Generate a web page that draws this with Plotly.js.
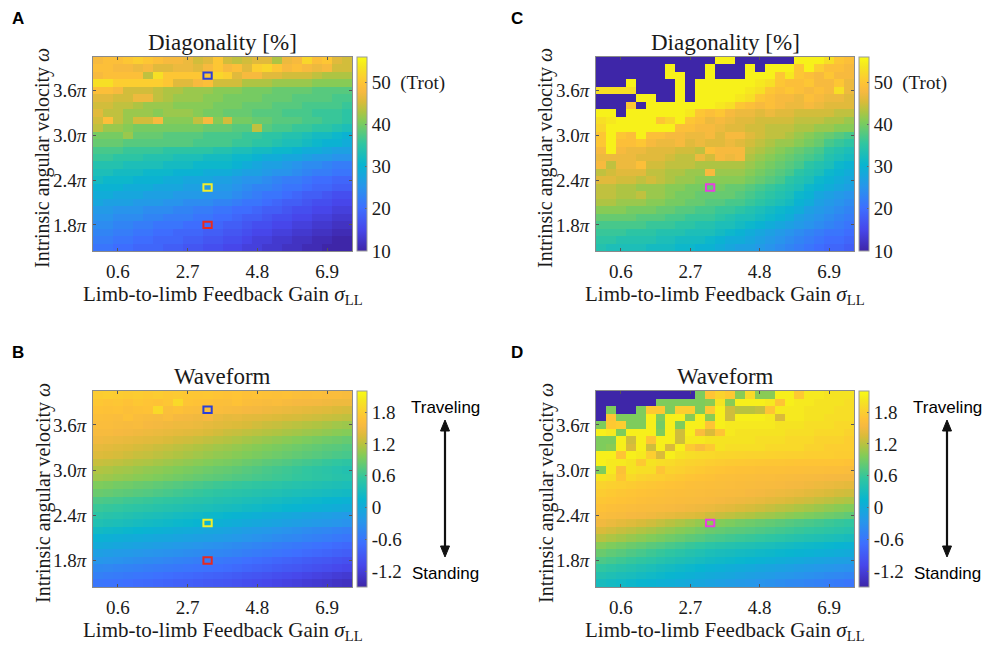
<!DOCTYPE html>
<html>
<head>
<meta charset="utf-8">
<script src="https://cdn.plot.ly/plotly-3.0.1.min.js"></script>
<style>html,body{margin:0;padding:0;background:#fff;}#chart{width:984px;height:645px;}</style>
</head>
<body>
<div id="chart"></div>
<script>
// ---- axes / categories ----
const xVals = [0,0.3,0.6,0.9,1.2,1.5,1.8,2.1,2.4,2.7,3.0,3.3,3.6,3.9,4.2,4.5,4.8,5.1,5.4,5.7,6.0,6.3,6.6,6.9,7.2,7.5];
// rows listed from top (4.0π) to bottom (1.5π)
const yVals = [4.0,3.9,3.8,3.7,3.6,3.5,3.4,3.3,3.2,3.1,3.0,2.9,2.8,2.7,2.6,2.5,2.4,2.3,2.2,2.1,2.0,1.9,1.8,1.7,1.6,1.5];
const xTickVals = [0.6,2.7,4.8,6.9];
const xTickText = ['0.6','2.7','4.8','6.9'];
const yTickVals = [1.8,2.4,3.0,3.6];
const yTickText = ['1.8<i>π</i>','2.4<i>π</i>','3.0<i>π</i>','3.6<i>π</i>'];
const diagTickVals = [10,20,30,40,50];
const diagTickText = ['10','20','30','40','50  (Trot)'];
const waveTickVals = [-1.2,-0.6,0,0.6,1.2,1.8];
const waveTickText = ['-1.2','-0.6','0','0.6','1.2','1.8'];

// ---- A: Diagonality [%] ----
const zDiagA = [
[48,49,49,50,51,50,49,48,48,47,45,46,50,45,44,45,46,46,43,47,48,52,49,50,46,45],
[49,49,48,48,47,48,46,46,47,47,46,48,50,48,49,46,51,52,50,48,49,48,47,48,45,45],
[48,49,49,49,49,44,53,50,50,50,50,50,52,51,46,48,48,46,46,45,45,45,44,43,43,43],
[53,53,51,51,51,51,51,50,46,46,48,49,45,45,45,43,43,43,42,42,42,42,41,41,41,41],
[49,49,48,45,45,45,44,43,43,42,42,42,41,41,41,40,40,40,39,39,39,39,38,38,38,38],
[46,46,45,45,47,47,44,43,42,42,42,41,41,40,40,40,40,39,39,39,38,38,38,38,37,37],
[45,45,44,44,43,42,42,42,41,41,41,41,40,40,40,39,39,39,38,38,38,37,37,37,37,36],
[46,44,44,42,42,42,41,42,42,42,41,40,40,39,39,39,38,38,38,37,37,37,36,36,36,35],
[45,49,44,42,45,45,48,41,41,41,44,48,41,45,40,40,39,39,38,38,38,37,37,36,36,35],
[44,42,42,41,40,40,40,40,40,40,40,39,39,39,38,38,44,38,37,37,36,36,35,35,34,33],
[40,40,40,42,39,39,39,38,38,38,38,37,37,37,37,36,36,35,35,34,34,33,32,32,31,30],
[39,39,39,38,38,38,38,38,38,38,37,37,37,37,36,36,35,35,34,33,33,32,31,30,30,29],
[37,37,37,36,36,36,36,35,35,35,35,35,34,34,33,33,32,32,31,31,30,29,29,28,27,27],
[36,36,35,35,35,34,34,34,33,33,33,32,32,32,31,31,30,29,29,28,28,27,26,26,25,25],
[34,34,34,33,33,33,33,32,32,32,31,31,31,31,30,29,28,27,27,26,25,24,24,23,22,22],
[33,33,32,32,32,31,31,31,30,30,30,29,29,29,28,27,27,26,25,25,24,23,22,22,21,21],
[32,31,31,31,30,30,30,29,29,28,28,28,27,27,26,25,25,24,23,22,22,21,20,20,19,19],
[30,30,30,29,29,29,28,28,28,27,27,26,26,26,25,24,23,23,22,21,21,20,19,19,18,18],
[29,29,28,28,28,27,27,27,26,26,26,25,25,25,24,23,22,21,21,20,19,18,18,17,16,16],
[28,27,27,27,26,26,26,25,25,24,24,24,23,23,22,21,21,20,19,18,18,17,16,16,15,15],
[26,26,25,25,25,24,24,24,23,23,22,22,21,21,20,20,19,18,18,17,16,16,15,15,14,14],
[25,25,24,24,24,23,23,22,22,22,21,21,20,20,19,18,18,17,16,16,15,15,14,14,13,13],
[24,24,23,23,22,22,21,21,21,20,20,20,19,18,18,17,16,16,15,15,14,14,13,13,12,12],
[23,23,22,22,21,21,20,20,19,19,19,18,18,17,17,16,15,15,14,14,13,13,12,12,11,11],
[22,22,21,21,20,20,19,19,19,18,18,17,17,16,16,15,14,14,13,13,12,12,11,11,10,10],
[21,21,20,20,19,19,19,18,18,17,17,16,16,15,15,14,14,13,13,12,12,11,11,10,10,10]
];

// ---- C: Diagonality [%] (second condition) ----
const zDiagC = [
[10,10,10,10,10,10,10,10,10,10,10,10,55,55,10,10,10,10,10,10,55,55,55,53,50,49],
[10,10,10,10,10,10,10,55,10,10,10,55,10,10,10,55,10,55,55,55,50,55,51,49,49,48],
[10,10,10,10,10,10,10,55,55,10,10,55,10,10,10,55,55,55,50,54,50,49,48,50,48,48],
[10,10,10,55,10,10,10,10,55,10,55,55,55,55,55,55,54,53,50,49,49,50,48,48,50,47],
[53,53,53,53,10,10,10,10,55,10,55,55,55,55,55,54,53,50,49,50,49,48,49,48,53,47],
[10,10,10,10,55,55,10,10,55,10,55,55,55,55,54,53,50,49,48,48,47,49,48,47,47,46],
[10,10,10,50,10,55,55,55,55,55,55,55,54,53,50,49,48,49,48,47,47,48,47,46,46,46],
[55,55,10,55,55,55,55,55,55,54,50,49,50,48,47,47,46,47,46,46,45,45,45,45,44,44],
[53,54,55,55,55,55,50,52,55,50,49,47,48,47,46,46,45,45,45,45,44,44,44,43,43,42],
[52,55,55,55,55,55,55,55,49,49,48,48,47,46,46,45,45,44,44,44,43,43,42,42,41,41],
[50,55,50,49,55,49,49,48,48,47,47,48,46,48,48,46,45,44,44,43,42,41,40,39,38,37],
[50,55,49,49,50,48,47,47,48,46,47,46,46,47,46,45,44,43,42,42,41,40,39,37,36,35],
[48,55,48,47,47,46,46,46,45,45,44,49,48,48,48,44,43,42,41,40,39,38,37,35,34,33],
[47,47,47,47,46,46,46,45,44,44,47,45,48,47,48,43,42,41,40,39,38,37,36,34,33,32],
[48,44,47,47,49,45,45,44,44,44,43,43,43,43,43,42,41,40,39,38,37,35,34,33,31,30],
[44,45,46,46,46,44,44,43,43,42,42,48,42,42,42,41,40,39,38,37,35,34,33,31,30,29],
[46,46,45,45,44,45,44,43,42,42,41,41,41,41,41,40,39,38,37,35,34,33,31,30,29,28],
[44,44,43,43,42,42,42,41,41,40,40,39,40,39,39,38,37,36,35,34,33,31,30,29,28,27],
[44,44,43,43,44,42,42,41,40,40,39,39,39,39,38,37,36,35,34,33,31,30,28,27,26,25],
[43,43,42,42,42,41,41,40,40,39,39,38,38,37,37,36,35,34,33,32,30,29,27,26,25,24],
[41,41,41,40,40,40,39,39,38,38,37,37,36,36,35,34,33,32,31,30,29,27,26,25,24,23],
[39,39,39,39,38,38,38,37,37,36,36,36,35,34,33,33,32,31,30,29,27,26,25,24,23,22],
[37,37,37,37,37,36,36,36,35,35,34,34,33,33,32,31,30,29,28,27,26,25,24,23,22,21],
[36,36,36,35,35,35,34,34,34,33,33,33,32,31,30,29,28,27,26,25,24,23,22,21,21,20],
[35,35,34,34,34,34,33,33,32,32,32,31,30,29,29,28,27,26,25,24,23,22,21,20,20,19],
[34,33,33,33,33,32,32,32,31,31,30,30,29,28,27,27,26,25,24,23,22,21,20,19,19,18]
];

// ---- B: Waveform ----
const zWaveB = [
[1.78,1.8,1.78,1.76,1.78,1.75,1.78,1.74,1.76,1.73,1.72,1.73,1.7,1.68,1.7,1.67,1.68,1.66,1.65,1.66,1.63,1.62,1.63,1.6,1.6,1.58],
[1.73,1.7,1.72,1.68,1.73,1.7,1.68,1.72,1.9,1.7,1.68,1.66,1.64,1.63,1.68,1.62,1.6,1.58,1.6,1.56,1.54,1.53,1.52,1.5,1.48,1.48],
[1.68,1.66,1.68,1.64,1.66,1.68,1.9,1.63,1.66,1.62,1.6,1.62,1.6,1.58,1.56,1.54,1.52,1.5,1.48,1.46,1.44,1.42,1.4,1.38,1.35,1.33],
[1.63,1.62,1.6,1.66,1.6,1.58,1.56,1.6,1.54,1.52,1.5,1.54,1.46,1.43,1.44,1.41,1.4,1.38,1.36,1.34,1.33,1.31,1.29,1.27,1.25,1.23],
[1.6,1.6,1.58,1.56,1.58,1.54,1.52,1.5,1.48,1.48,1.46,1.43,1.4,1.38,1.36,1.34,1.31,1.28,1.26,1.23,1.21,1.18,1.16,1.13,1.1,1.08],
[1.56,1.56,1.54,1.52,1.5,1.48,1.46,1.44,1.42,1.4,1.38,1.35,1.32,1.28,1.26,1.23,1.21,1.18,1.16,1.13,1.11,1.08,1.06,1.03,1.0,0.98],
[1.5,1.48,1.46,1.44,1.42,1.4,1.38,1.35,1.32,1.3,1.27,1.24,1.21,1.18,1.15,1.12,1.09,1.06,1.03,1.0,0.97,0.94,0.91,0.88,0.86,0.83],
[1.43,1.41,1.38,1.36,1.33,1.31,1.28,1.25,1.22,1.19,1.16,1.13,1.1,1.08,1.05,1.02,0.99,0.96,0.93,0.9,0.87,0.84,0.81,0.78,0.76,0.73],
[1.37,1.35,1.33,1.3,1.27,1.25,1.22,1.19,1.16,1.13,1.1,1.07,1.04,1.02,0.99,0.96,0.93,0.9,0.87,0.84,0.81,0.78,0.75,0.72,0.69,0.67],
[1.27,1.25,1.23,1.2,1.17,1.15,1.12,1.09,1.06,1.03,1.0,0.97,0.94,0.92,0.89,0.85,0.82,0.78,0.75,0.72,0.68,0.65,0.62,0.58,0.55,0.52],
[1.17,1.15,1.12,1.1,1.07,1.04,1.02,0.99,0.96,0.93,0.9,0.87,0.84,0.82,0.79,0.75,0.72,0.68,0.65,0.62,0.59,0.55,0.52,0.49,0.45,0.42],
[1.1,1.08,1.05,1.03,1.0,0.98,0.95,0.92,0.89,0.86,0.83,0.8,0.78,0.75,0.72,0.7,0.67,0.65,0.62,0.6,0.57,0.55,0.52,0.5,0.47,0.45],
[0.95,0.93,0.9,0.88,0.85,0.83,0.8,0.77,0.74,0.71,0.68,0.65,0.62,0.6,0.58,0.56,0.54,0.52,0.5,0.47,0.45,0.43,0.41,0.39,0.37,0.35],
[0.85,0.83,0.8,0.78,0.75,0.73,0.7,0.67,0.64,0.61,0.58,0.55,0.52,0.5,0.48,0.46,0.44,0.42,0.4,0.37,0.35,0.33,0.31,0.29,0.27,0.25],
[0.7,0.68,0.66,0.63,0.61,0.59,0.56,0.54,0.52,0.49,0.47,0.45,0.42,0.4,0.38,0.35,0.33,0.3,0.28,0.25,0.23,0.2,0.18,0.15,0.13,0.1],
[0.6,0.58,0.56,0.53,0.51,0.49,0.46,0.44,0.42,0.39,0.37,0.35,0.32,0.3,0.28,0.25,0.23,0.2,0.18,0.15,0.13,0.1,0.08,0.05,0.03,0.0],
[0.5,0.47,0.45,0.42,0.39,0.36,0.34,0.31,0.28,0.26,0.23,0.2,0.18,0.15,0.12,0.09,0.06,0.03,0.0,-0.03,-0.06,-0.09,-0.12,-0.14,-0.17,-0.2],
[0.4,0.37,0.35,0.32,0.29,0.26,0.24,0.21,0.18,0.16,0.13,0.1,0.08,0.05,0.02,-0.01,-0.04,-0.07,-0.1,-0.13,-0.16,-0.19,-0.22,-0.24,-0.27,-0.3],
[0.25,0.22,0.2,0.17,0.14,0.11,0.09,0.06,0.03,0.01,-0.02,-0.05,-0.07,-0.1,-0.13,-0.17,-0.2,-0.23,-0.27,-0.3,-0.33,-0.37,-0.4,-0.43,-0.47,-0.5],
[0.1,0.08,0.05,0.03,0.01,-0.02,-0.04,-0.06,-0.08,-0.11,-0.13,-0.15,-0.18,-0.2,-0.23,-0.27,-0.3,-0.33,-0.37,-0.4,-0.43,-0.47,-0.5,-0.53,-0.57,-0.6],
[0.0,-0.03,-0.05,-0.08,-0.11,-0.13,-0.16,-0.19,-0.22,-0.24,-0.27,-0.3,-0.32,-0.35,-0.38,-0.42,-0.45,-0.48,-0.52,-0.55,-0.58,-0.62,-0.65,-0.68,-0.72,-0.75],
[-0.15,-0.17,-0.2,-0.22,-0.24,-0.27,-0.29,-0.31,-0.33,-0.36,-0.38,-0.4,-0.43,-0.45,-0.48,-0.52,-0.55,-0.58,-0.62,-0.65,-0.68,-0.72,-0.75,-0.78,-0.82,-0.85],
[-0.25,-0.28,-0.3,-0.33,-0.36,-0.38,-0.41,-0.44,-0.47,-0.49,-0.52,-0.55,-0.57,-0.6,-0.63,-0.67,-0.7,-0.73,-0.77,-0.8,-0.83,-0.87,-0.9,-0.93,-0.97,-1.0],
[-0.4,-0.42,-0.45,-0.47,-0.49,-0.52,-0.54,-0.56,-0.58,-0.61,-0.63,-0.65,-0.68,-0.7,-0.73,-0.77,-0.8,-0.83,-0.87,-0.9,-0.93,-0.97,-1.0,-1.03,-1.07,-1.1],
[-0.5,-0.53,-0.55,-0.58,-0.61,-0.63,-0.66,-0.69,-0.72,-0.74,-0.77,-0.8,-0.82,-0.85,-0.88,-0.92,-0.95,-0.98,-1.02,-1.05,-1.08,-1.12,-1.15,-1.18,-1.22,-1.25],
[-0.6,-0.63,-0.65,-0.68,-0.71,-0.73,-0.76,-0.79,-0.82,-0.84,-0.87,-0.9,-0.92,-0.95,-0.98,-1.02,-1.05,-1.08,-1.12,-1.15,-1.18,-1.22,-1.25,-1.28,-1.32,-1.35]
];

// ---- D: Waveform (second condition) ----
const zWaveD = [
[-1.5,-1.5,-1.5,-1.5,-1.5,-1.5,-1.5,-1.5,-1.5,-1.5,0.95,1.7,1.85,1.75,1.0,1.9,1.0,1.0,2.1,2.1,1.75,2.05,2.05,2.0,2.0,2.0],
[-1.5,-1.5,-1.5,-1.5,-1.5,-1.5,0.95,0.95,0.95,0.95,0.95,1.0,2.0,1.0,2.1,2.1,2.1,2.05,1.7,2.1,2.05,2.05,2.0,2.0,2.0,1.95],
[-1.5,0.95,-1.5,-1.5,0.95,1.75,1.75,0.95,1.8,1.8,0.95,1.75,2.1,1.3,1.2,1.2,1.25,1.7,2.05,2.05,2.05,2.0,2.0,2.0,1.95,1.95],
[-1.5,1.7,0.95,0.95,0.95,2.1,0.95,2.1,2.1,1.0,2.1,1.0,2.1,1.3,2.1,2.1,2.1,2.05,1.35,2.05,2.05,2.0,2.0,1.95,1.95,1.95],
[0.95,1.75,1.8,0.95,0.95,2.1,0.9,2.1,0.95,2.1,2.1,1.7,2.1,2.05,2.05,2.05,2.05,2.05,2.0,2.0,2.0,1.95,1.95,1.95,1.9,1.9],
[2.1,2.05,0.95,2.1,2.1,2.1,0.95,2.1,1.3,2.1,1.6,1.35,1.7,2.05,2.0,2.0,2.0,2.0,2.0,1.95,1.95,1.95,1.9,1.9,1.9,1.85],
[0.95,0.95,2.1,1.3,2.1,1.7,2.1,2.1,1.3,2.05,2.05,2.0,2.0,2.0,2.0,2.0,1.95,1.95,1.95,1.9,1.9,1.9,1.85,1.85,1.85,1.8],
[0.95,1.0,2.1,1.35,2.1,1.3,2.1,1.35,2.1,1.75,1.6,1.75,2.0,1.95,1.95,1.95,1.95,1.9,1.9,1.9,1.9,1.85,1.85,1.8,1.8,1.8],
[2.1,2.1,1.7,2.1,2.05,1.8,1.35,2.1,2.0,1.95,1.92,1.9,1.88,1.87,1.86,1.85,1.85,1.84,1.83,1.82,1.82,1.8,1.8,1.8,1.78,1.78],
[2.1,2.05,2.05,2.0,1.75,2.0,1.95,1.92,1.88,1.85,1.83,1.8,1.78,1.76,1.75,1.74,1.73,1.72,1.72,1.71,1.7,1.7,1.7,1.7,1.7,1.68],
[0.95,2.05,1.65,2.0,1.95,1.95,1.7,1.85,1.82,1.78,1.75,1.72,1.7,1.68,1.67,1.66,1.65,1.65,1.65,1.64,1.64,1.63,1.63,1.62,1.62,1.6],
[2.0,1.95,1.7,1.9,1.85,1.82,1.8,1.76,1.73,1.7,1.68,1.66,1.64,1.63,1.62,1.61,1.6,1.6,1.59,1.58,1.57,1.56,1.55,1.54,1.53,1.52],
[1.85,1.82,1.8,1.77,1.74,1.72,1.7,1.68,1.66,1.64,1.63,1.62,1.61,1.6,1.59,1.58,1.57,1.56,1.55,1.53,1.52,1.5,1.48,1.46,1.44,1.42],
[1.78,1.75,1.72,1.7,1.68,1.66,1.65,1.63,1.62,1.61,1.6,1.59,1.58,1.57,1.56,1.54,1.52,1.5,1.48,1.46,1.44,1.41,1.38,1.35,1.32,1.3],
[1.72,1.7,1.68,1.66,1.64,1.62,1.61,1.6,1.59,1.58,1.57,1.55,1.53,1.51,1.49,1.47,1.44,1.41,1.38,1.35,1.32,1.29,1.25,1.22,1.18,1.15],
[1.66,1.64,1.62,1.6,1.59,1.58,1.57,1.55,1.53,1.51,1.49,1.46,1.43,1.4,1.36,1.33,1.3,1.26,1.22,1.19,1.15,1.12,1.08,1.04,1.0,0.97],
[1.6,1.58,1.56,1.54,1.52,1.5,1.47,1.44,1.41,1.38,1.35,1.3,1.26,1.23,1.19,1.16,1.12,1.09,1.05,1.01,0.98,0.94,0.91,0.87,0.84,0.8],
[1.5,1.46,1.42,1.38,1.34,1.3,1.25,1.2,1.15,1.1,1.05,1.0,0.97,0.94,0.9,0.87,0.84,0.81,0.78,0.74,0.71,0.68,0.65,0.61,0.58,0.55],
[1.35,1.31,1.26,1.22,1.17,1.13,1.08,1.04,0.99,0.95,0.9,0.85,0.82,0.79,0.77,0.74,0.71,0.68,0.65,0.62,0.59,0.56,0.54,0.51,0.48,0.45],
[1.2,1.15,1.11,1.06,1.02,0.97,0.93,0.88,0.84,0.79,0.75,0.7,0.67,0.64,0.61,0.59,0.56,0.53,0.5,0.47,0.44,0.41,0.39,0.36,0.33,0.3],
[1.0,0.95,0.91,0.86,0.82,0.77,0.73,0.68,0.64,0.59,0.55,0.5,0.47,0.44,0.41,0.39,0.36,0.33,0.3,0.27,0.24,0.21,0.19,0.16,0.13,0.1],
[0.85,0.8,0.76,0.71,0.67,0.62,0.58,0.53,0.49,0.44,0.4,0.35,0.32,0.3,0.27,0.25,0.22,0.2,0.17,0.15,0.12,0.1,0.07,0.05,0.02,0.0],
[0.7,0.66,0.62,0.58,0.54,0.5,0.45,0.41,0.37,0.33,0.29,0.25,0.22,0.19,0.16,0.13,0.1,0.07,0.04,0.01,-0.02,-0.05,-0.08,-0.11,-0.13,-0.15],
[0.55,0.51,0.47,0.43,0.39,0.35,0.3,0.26,0.22,0.18,0.14,0.1,0.07,0.04,0.01,-0.02,-0.05,-0.08,-0.11,-0.14,-0.17,-0.2,-0.23,-0.26,-0.28,-0.3],
[0.42,0.38,0.34,0.31,0.27,0.23,0.19,0.15,0.11,0.08,0.04,0.0,-0.03,-0.06,-0.1,-0.13,-0.16,-0.19,-0.23,-0.26,-0.29,-0.32,-0.35,-0.39,-0.42,-0.45],
[0.3,0.26,0.23,0.19,0.15,0.12,0.08,0.05,0.01,-0.03,-0.06,-0.1,-0.14,-0.17,-0.21,-0.24,-0.28,-0.31,-0.35,-0.39,-0.42,-0.46,-0.49,-0.53,-0.56,-0.6]
];

// highlighted cells
const markABx = [3.3,3.3,3.3];
const markABy = [3.8,2.3,1.8];
const markABcol = ['#2a40d8','#f2ee2a','#e8291f'];
const markCDx = [3.3];
const markCDy = [2.3];
const markCDcol = ['#e640e0'];

// MATLAB parula colormap
const parula = [
 [0,'rgb(62,38,168)'],[0.111,'rgb(71,71,235)'],[0.222,'rgb(62,111,255)'],[0.333,'rgb(39,150,235)'],
 [0.444,'rgb(8,181,208)'],[0.556,'rgb(49,198,159)'],[0.667,'rgb(129,204,89)'],[0.72,'rgb(176,196,66)'],
 [0.77,'rgb(218,187,58)'],[0.82,'rgb(246,185,64)'],[0.86,'rgb(254,194,54)'],[0.9,'rgb(251,209,46)'],
 [0.95,'rgb(245,229,33)'],[1,'rgb(249,251,21)']
];

// ---- helpers ----
const W = 984, H = 645;
const px = v => v / W;
const py = v => 1 - v / H;
const yAsc = yVals.slice().reverse();
const flip = z => z.slice().reverse();
const serif = 'Liberation Serif, Times New Roman, serif';
const sans = 'Liberation Sans, Arial, sans-serif';
const ink = '#1a1a1a';

const panels = {
  A: {x0:93, x1:352, y0:57, y1:251},
  B: {x0:93, x1:352, y0:391, y1:587},
  C: {x0:596, x1:854, y0:57, y1:251},
  D: {x0:596, x1:854, y0:391, y1:587}
};

function cbar(p, tv, tt) {
  return {
    x: px(p.x1 + 5), xanchor: 'left', y: py((p.y0 + p.y1) / 2), yanchor: 'middle',
    len: (p.y1 - p.y0) / H, lenmode: 'fraction', thickness: 10, thicknessmode: 'pixels',
    outlinewidth: 1, outlinecolor: '#9a9a9a', xpad: 0, ypad: 0,
    tickvals: tv, ticktext: tt, ticks: 'inside', ticklen: 2, tickcolor: '#666',
    tickfont: {family: serif, size: 19, color: ink}
  };
}
function hm(z, zmin, zmax, xa, ya, p, tv, tt) {
  return {type: 'heatmap', x: xVals, y: yAsc, z: flip(z), zmin, zmax, colorscale: parula,
    zsmooth: false, xaxis: xa, yaxis: ya, hoverinfo: 'skip', colorbar: cbar(p, tv, tt)};
}

const data = [
  hm(zDiagA, 10, 56, 'x', 'y', panels.A, diagTickVals, diagTickText),
  hm(zWaveB, -1.5, 2.2, 'x2', 'y2', panels.B, waveTickVals, waveTickText),
  hm(zDiagC, 10, 56, 'x3', 'y3', panels.C, diagTickVals, diagTickText),
  hm(zWaveD, -1.5, 2.2, 'x4', 'y4', panels.D, waveTickVals, waveTickText)
];

function xax(p, anchor) {
  return {domain: [px(p.x0), px(p.x1)], anchor, range: [-0.15, 7.65], tickvals: xTickVals, ticktext: xTickText,
    ticks: 'inside', ticklen: 3, tickcolor: '#555', showline: true, linecolor: '#8a8a8a', linewidth: 1,
    mirror: 'ticks', showgrid: false, zeroline: false, ticklabelstandoff: 3,
    tickfont: {family: serif, size: 19, color: ink}};
}
function yax(p, anchor) {
  return {domain: [py(p.y1), py(p.y0)], anchor, range: [1.45, 4.05], tickvals: yTickVals, ticktext: yTickText,
    ticks: 'inside', ticklen: 3, tickcolor: '#555', showline: true, linecolor: '#8a8a8a', linewidth: 1,
    mirror: 'ticks', showgrid: false, zeroline: false, ticklabelstandoff: 2,
    tickfont: {family: serif, size: 19, color: ink}};
}

const ann = [];
function txt(t, x, y, font, extra) {
  ann.push(Object.assign({text: t, x: px(x), y: py(y), xref: 'paper', yref: 'paper', showarrow: false,
    xanchor: 'center', yanchor: 'middle', font}, extra || {}));
}
const titleFont = {family: serif, size: 23, color: ink};
const xlabFont = {family: serif, size: 21, color: ink};
const ylabFont = {family: serif, size: 20, color: ink};
const letterFont = {family: sans, size: 17, color: '#000'};
const sideFont = {family: sans, size: 17, color: '#000'};

const titles = {A: 'Diagonality [%]', B: 'Waveform', C: 'Diagonality [%]', D: 'Waveform'};
for (const k of ['A','B','C','D']) {
  const p = panels[k];
  const cx = (p.x0 + p.x1) / 2;
  txt(titles[k], cx, p.y0 - 15, titleFont);
  txt('Limb-to-limb Feedback Gain <i>σ</i><sub>LL</sub>', cx, p.y1 + 44, xlabFont);
  txt('Intrinsic angular velocity <i>ω</i>', p.x0 - 50, (p.y0 + p.y1) / 2 + 4, ylabFont, {textangle: -90});
  txt('<b>' + k + '</b>', p.x0 - (k === 'A' || k === 'B' ? 75 : 79), p.y0 - 38, letterFont);
}

const shapes = [];
// Traveling / Standing double arrows for waveform panels
for (const k of ['B','D']) {
  const p = panels[k];
  const ax = p.x1 + 93;
  txt('Traveling', ax, 407, sideFont);
  txt('Standing', ax, 573, sideFont);
  const top = 420, bot = 557, hh = 11, hw = 4.5;
  shapes.push({type: 'line', xref: 'paper', yref: 'paper', x0: px(ax), x1: px(ax), y0: py(top + hh - 2), y1: py(bot - hh + 2),
    line: {color: '#111', width: 2.2}});
  shapes.push({type: 'path', xref: 'paper', yref: 'paper', fillcolor: '#111', line: {color: '#111', width: 1},
    path: `M ${px(ax)},${py(top)} L ${px(ax - hw)},${py(top + hh)} L ${px(ax + hw)},${py(top + hh)} Z`});
  shapes.push({type: 'path', xref: 'paper', yref: 'paper', fillcolor: '#111', line: {color: '#111', width: 1},
    path: `M ${px(ax)},${py(bot)} L ${px(ax - hw)},${py(bot - hh)} L ${px(ax + hw)},${py(bot - hh)} Z`});
}

// highlight boxes
function boxes(xs, ys, cols, xr, yr) {
  for (let i = 0; i < xs.length; i++) {
    shapes.push({type: 'rect', xref: xr, yref: yr, x0: xs[i] - 0.125, x1: xs[i] + 0.125,
      y0: ys[i] - 0.043, y1: ys[i] + 0.043, line: {color: cols[i], width: 2}});
  }
}
boxes(markABx, markABy, markABcol, 'x', 'y');
boxes(markABx, markABy, markABcol, 'x2', 'y2');
boxes(markCDx, markCDy, markCDcol, 'x3', 'y3');
boxes(markCDx, markCDy, markCDcol, 'x4', 'y4');

const layout = {
  width: W, height: H, margin: {l: 0, r: 0, t: 0, b: 0}, paper_bgcolor: '#fff', plot_bgcolor: '#fff',
  showlegend: false,
  xaxis: xax(panels.A, 'y'), yaxis: yax(panels.A, 'x'),
  xaxis2: xax(panels.B, 'y2'), yaxis2: yax(panels.B, 'x2'),
  xaxis3: xax(panels.C, 'y3'), yaxis3: yax(panels.C, 'x3'),
  xaxis4: xax(panels.D, 'y4'), yaxis4: yax(panels.D, 'x4'),
  annotations: ann, shapes
};
Plotly.newPlot('chart', data, layout, {staticPlot: true, displayModeBar: false});
</script>
</body>
</html>
